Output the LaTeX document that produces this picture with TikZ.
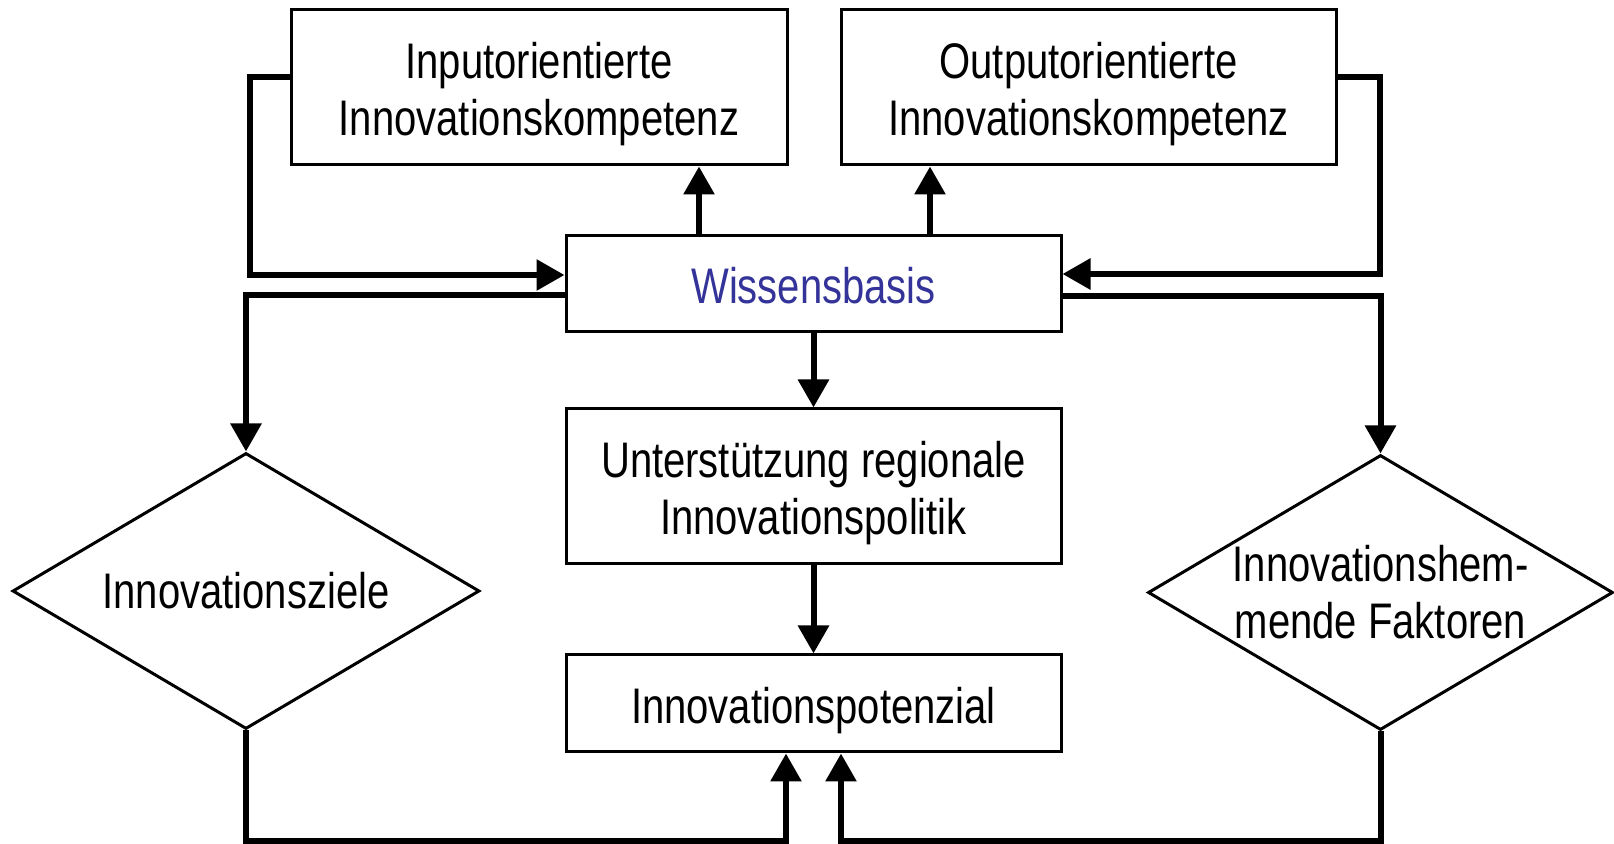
\documentclass[tikz,border=0pt]{standalone}
\usepackage{fontspec}
\setmainfont[FakeStretch=0.8]{Liberation Sans}
\usetikzlibrary{shapes.geometric,arrows.meta}
\definecolor{wissblue}{RGB}{51,51,153}
\tikzset{
  box/.style={draw,line width=1.5pt,align=center,inner sep=0pt,
    text height=26pt,text depth=6pt},
  zwei/.style={text height=54.5pt},
  raute/.style={diamond,aspect=1.7,draw,line width=1.5pt,align=center,inner sep=0pt},
  conn/.style={line width=3pt,-{Triangle[length=14pt,width=15pt]}},
}
\begin{document}
\begin{tikzpicture}[x=0.5pt,y=-0.5pt,font=\fontsize{25}{28.5}\selectfont]
  \useasboundingbox (0,0) rectangle (1614,844);
  % boxes
  \node[box,zwei,minimum width=248pt,minimum height=77.5pt] (inp) at (539,87.5) {Inputorientierte\\Innovationskompetenz};
  \node[box,zwei,minimum width=247.5pt,minimum height=77.5pt] (outp) at (1088.5,87.5) {Outputorientierte\\Innovationskompetenz};
  \node[box,minimum width=247.5pt,minimum height=48pt,text=wissblue] (wiss) at (813.5,284) {Wissensbasis};
  \node[box,zwei,minimum width=247.5pt,minimum height=77.5pt] (unter) at (813.5,486.5) {Unterstützung regionale\\Innovationspolitik};
  \node[box,minimum width=247.5pt,minimum height=48.5pt] (pot) at (813.5,703.5) {Innovationspotenzial};
  % diamonds
  \node[raute,minimum width=233.5pt,minimum height=138pt] (ziel) at (246,591) {Innovationsziele};
  \node[raute,minimum width=232.5pt,minimum height=137.5pt] (hemm) at (1380.5,592.5) {Innovationshem-\\mende Faktoren};
  % connectors
  \draw[conn] (inp.west |- 0,77) -| (250,275) -- (wiss.west |- 0,275);
  \draw[conn] (outp.east |- 0,77) -| (1380,274) -- (wiss.east |- 0,274);
  \draw[conn] (wiss.west |- 0,295) -| (ziel.north);
  \draw[conn] (wiss.east |- 0,296) -| (hemm.north);
  \draw[conn] (wiss.north -| 699,0) -- (inp.south -| 699,0);
  \draw[conn] (wiss.north -| 930,0) -- (outp.south -| 930,0);
  \draw[conn] (wiss) -- (unter);
  \draw[conn] (unter) -- (pot);
  \draw[conn] (ziel.south) |- (786,841) -- (pot.south -| 786,0);
  \draw[conn] (hemm.south) |- (841,841) -- (pot.south -| 841,0);
\end{tikzpicture}
\end{document}
